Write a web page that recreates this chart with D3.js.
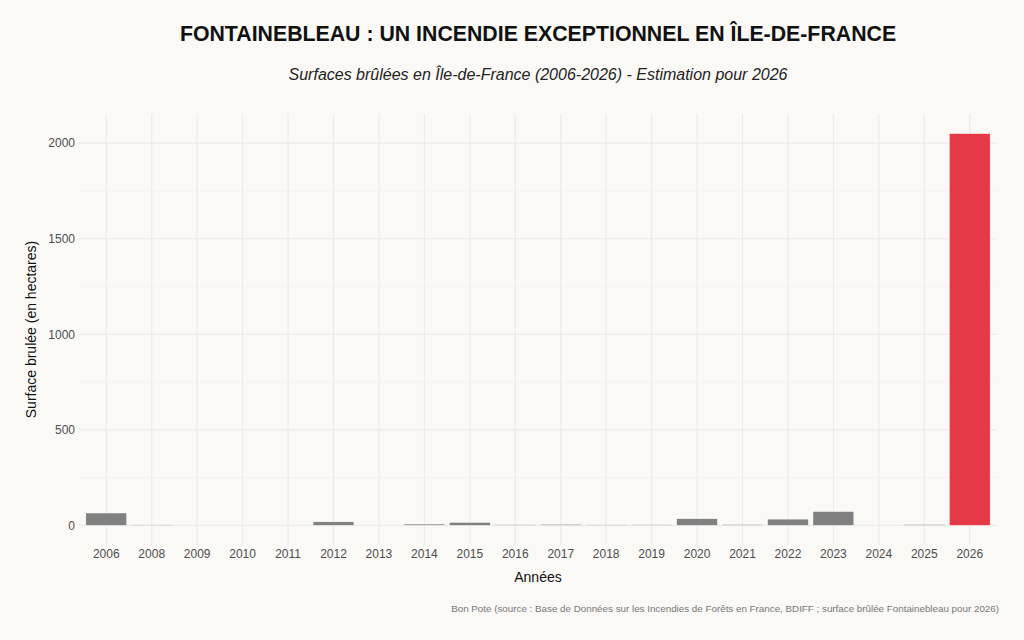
<!DOCTYPE html>
<html>
<head>
<meta charset="utf-8">
<script src="https://cdn.jsdelivr.net/npm/d3@7"></script>
<style>
  body { margin: 0; background: #faf9f6; }
  text { font-family: "Liberation Sans", Arial, sans-serif; }
</style>
</head>
<body>
<div id="chart"></div>
<script>
var years = ["2006", "2008", "2009", "2010", "2011", "2012", "2013", "2014", "2015", "2016",
             "2017", "2018", "2019", "2020", "2021", "2022", "2023", "2024", "2025", "2026"];
var surfaces = [65, 3, 0, 0, 0, 19, 0, 7, 16, 4, 6, 3, 4, 35, 5, 33, 73, 0, 5, 2050];
var yTicks = [0, 500, 1000, 1500, 2000];
var highlightYear = "2026";

var width = 1024, height = 640;
var margin = { top: 114, right: 27, bottom: 95, left: 79 };

var svg = d3.select("#chart").append("svg")
    .attr("width", width)
    .attr("height", height);

svg.append("rect").attr("width", width).attr("height", height).attr("fill", "#faf9f6");

var x = d3.scaleBand()
    .domain(years)
    .range([margin.left, width - margin.right])
    .paddingInner(0.1)
    .paddingOuter(0.15);

var yMax = d3.max(surfaces);
var y = d3.scaleLinear()
    .domain([-yMax * 0.05, yMax * 1.05])
    .range([height - margin.bottom, margin.top]);

var grid = svg.append("g");
// minor horizontal grid
grid.selectAll("line.minor")
    .data(d3.range(250, 2250, 500))
    .enter().append("line")
    .attr("x1", margin.left).attr("x2", width - margin.right)
    .attr("y1", function(d) { return y(d); })
    .attr("y2", function(d) { return y(d); })
    .attr("stroke", "#f0efec").attr("stroke-width", 0.6);

grid.selectAll("line.major")
    .data(yTicks)
    .enter().append("line")
    .attr("x1", margin.left).attr("x2", width - margin.right)
    .attr("y1", function(d) { return y(d); })
    .attr("y2", function(d) { return y(d); })
    .attr("stroke", "#ebeae7").attr("stroke-width", 1.1);

grid.selectAll("line.vert")
    .data(years)
    .enter().append("line")
    .attr("x1", function(d) { return x(d) + x.bandwidth() / 2; })
    .attr("x2", function(d) { return x(d) + x.bandwidth() / 2; })
    .attr("y1", margin.top).attr("y2", height - margin.bottom)
    .attr("stroke", "#ebeae7").attr("stroke-width", 1.1);

svg.append("g").selectAll("rect")
    .data(years)
    .enter().append("rect")
    .attr("x", function(d) { return x(d); })
    .attr("width", x.bandwidth())
    .attr("y", function(d, i) { return y(surfaces[i]); })
    .attr("height", function(d, i) { return y(0) - y(surfaces[i]); })
    .attr("fill", function(d) { return d === highlightYear ? "#e63946" : "#808080"; })
    .attr("stroke", "#ffffff")
    .attr("stroke-width", 0.5);

var xAxis = svg.append("g")
    .attr("transform", "translate(0," + (height - margin.bottom) + ")")
    .call(d3.axisBottom(x).tickSize(0).tickPadding(4));
xAxis.select(".domain").remove();
xAxis.selectAll("text").attr("font-size", 12).attr("fill", "#4d4d4d")
    .attr("font-family", "Liberation Sans, Arial, sans-serif");

var yAxis = svg.append("g")
    .attr("transform", "translate(" + margin.left + ",0)")
    .call(d3.axisLeft(y).tickValues(yTicks).tickFormat(d3.format("d")).tickSize(0).tickPadding(4));
yAxis.select(".domain").remove();
yAxis.selectAll("text").attr("font-size", 12).attr("fill", "#4d4d4d")
    .attr("font-family", "Liberation Sans, Arial, sans-serif");

var cx = (margin.left + width - margin.right) / 2;

svg.append("text")
    .attr("x", cx).attr("y", 41)
    .attr("text-anchor", "middle")
    .attr("font-size", 21.3).attr("font-weight", "bold").attr("fill", "#111")
    .text("FONTAINEBLEAU : UN INCENDIE EXCEPTIONNEL EN ÎLE-DE-FRANCE");

svg.append("text")
    .attr("x", cx).attr("y", 80)
    .attr("text-anchor", "middle")
    .attr("font-size", 16).attr("font-style", "italic").attr("fill", "#222")
    .text("Surfaces brûlées en Île-de-France (2006-2026) - Estimation pour 2026");

svg.append("text")
    .attr("x", cx).attr("y", 582)
    .attr("text-anchor", "middle")
    .attr("font-size", 14).attr("fill", "#111")
    .text("Années");

svg.append("text")
    .attr("transform", "translate(36," + ((margin.top + height - margin.bottom) / 2) + ") rotate(-90)")
    .attr("text-anchor", "middle")
    .attr("font-size", 14).attr("fill", "#111")
    .text("Surface brulée (en hectares)");

svg.append("text")
    .attr("x", 999).attr("y", 612)
    .attr("text-anchor", "end")
    .attr("font-size", 9.8).attr("fill", "#777")
    .text("Bon Pote (source : Base de Données sur les Incendies de Forêts en France, BDIFF ; surface brûlée Fontainebleau pour 2026)");
</script>
</body>
</html>
